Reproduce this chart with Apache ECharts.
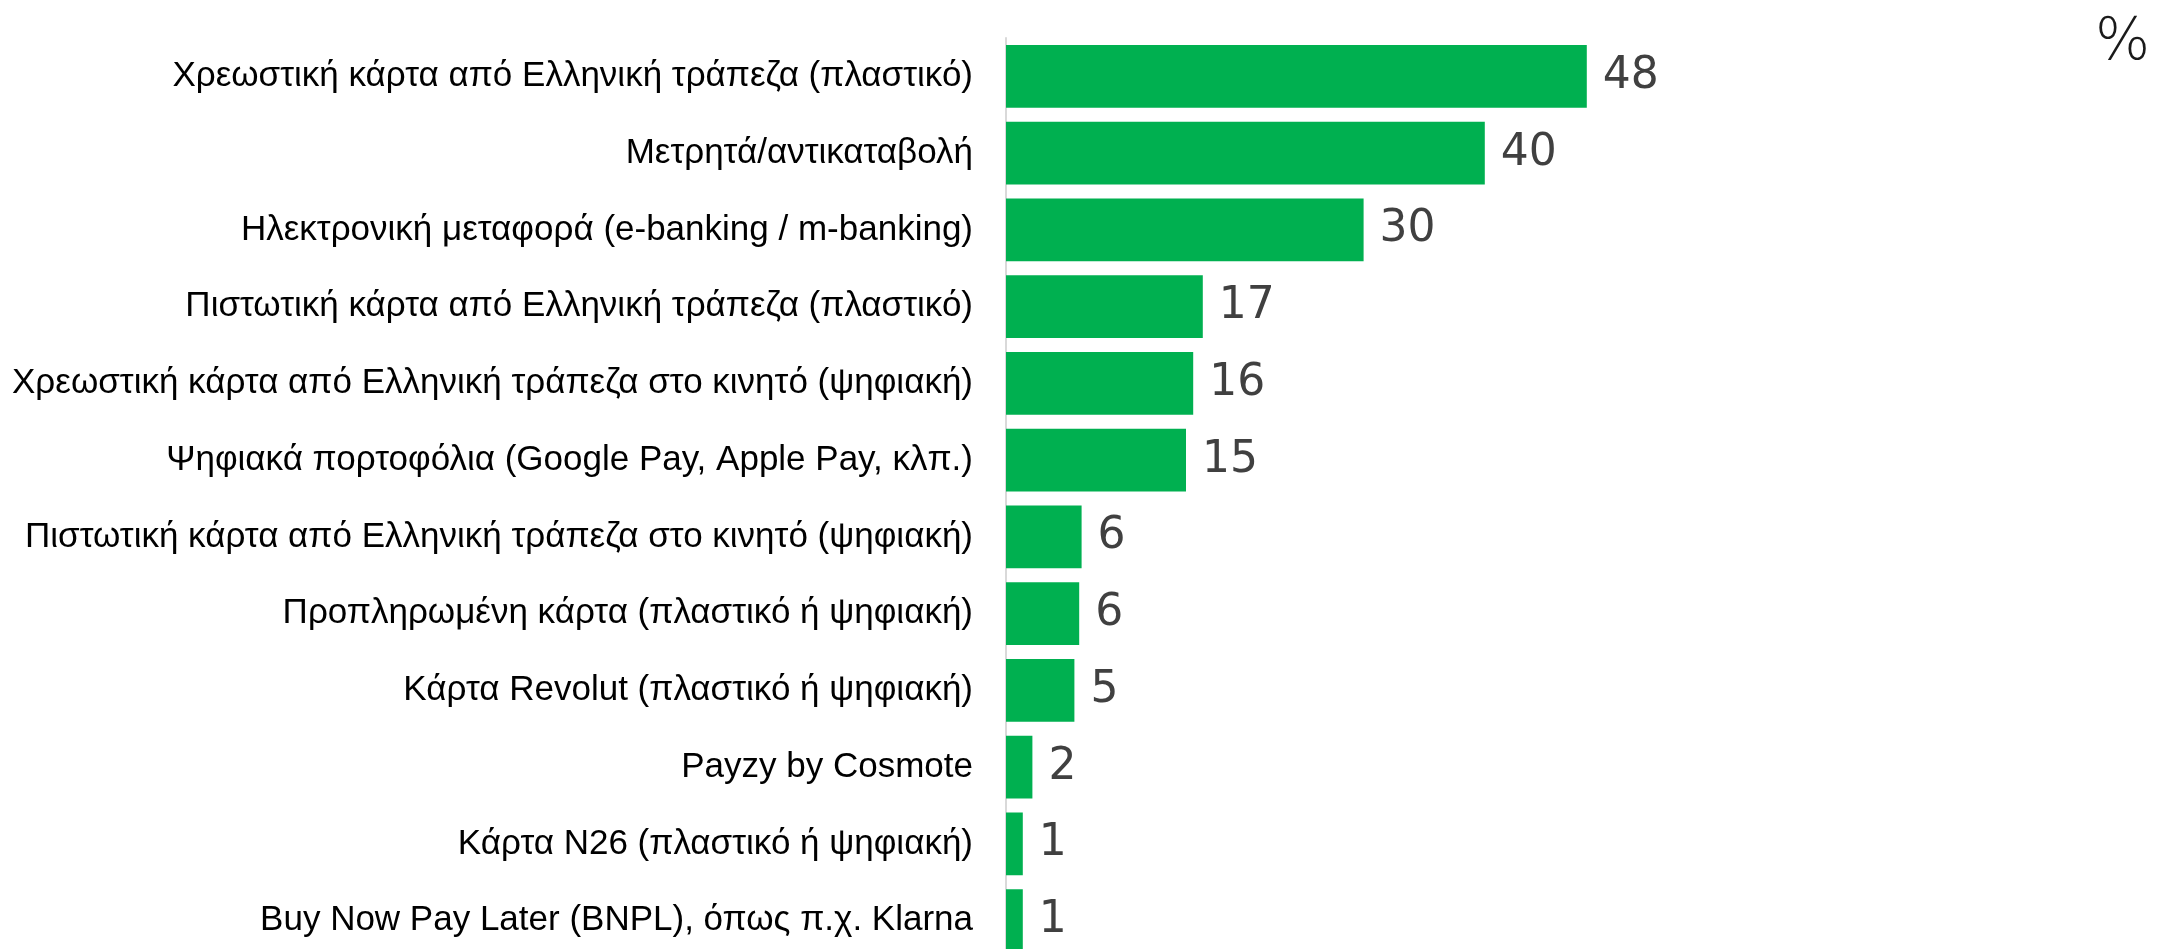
<!DOCTYPE html>
<html>
<head>
<meta charset="utf-8">
<script src="https://cdn.jsdelivr.net/npm/echarts@6/dist/echarts.min.js"></script>
<style>
  html, body { margin: 0; padding: 0; background: #fff; }
  #chart { width: 2159px; height: 949px; }
</style>
</head>
<body>
<div id="chart"></div>
<script>
// payment methods, top to bottom
const categories = [
  'Χρεωστική κάρτα από Ελληνική τράπεζα (πλαστικό)',
  'Μετρητά/αντικαταβολή',
  'Ηλεκτρονική μεταφορά (e-banking / m-banking)',
  'Πιστωτική κάρτα από Ελληνική τράπεζα (πλαστικό)',
  'Χρεωστική κάρτα από Ελληνική τράπεζα στο κινητό (ψηφιακή)',
  'Ψηφιακά πορτοφόλια (Google Pay, Apple Pay, κλπ.)',
  'Πιστωτική κάρτα από Ελληνική τράπεζα στο κινητό (ψηφιακή)',
  'Προπληρωμένη κάρτα (πλαστικό ή ψηφιακή)',
  'Κάρτα Revolut (πλαστικό ή ψηφιακή)',
  'Payzy by Cosmote',
  'Κάρτα N26 (πλαστικό ή ψηφιακή)',
  'Buy Now Pay Later (BNPL), όπως π.χ. Klarna'
];

// bar lengths as measured (%)
const values = [48.4, 39.9, 29.8, 16.4, 15.6, 15.0, 6.3, 6.1, 5.7, 2.2, 1.4, 1.4];

// numbers printed next to the bars
const valueLabels = [48, 40, 30, 17, 16, 15, 6, 6, 5, 2, 1, 1];

const unitText = '%';

const chart = echarts.init(document.getElementById('chart'));

const option = {
  animation: false,
  backgroundColor: '#ffffff',
  title: {
    text: unitText,
    right: 4,
    top: 10,
    textStyle: {
      fontFamily: 'DejaVu Sans',
      fontWeight: 200,
      fontSize: 58,
      color: '#1a1a1a'
    }
  },
  grid: {
    left: 1006,
    width: 960,
    top: 38,
    height: 921,
    outerBoundsMode: 'none',
    containLabel: false
  },
  xAxis: {
    type: 'value',
    min: 0,
    max: 80,
    show: false
  },
  yAxis: {
    type: 'category',
    data: categories,
    inverse: true,
    axisTick: { show: false },
    axisLine: {
      show: true,
      lineStyle: { color: '#d9d9d9', width: 2 }
    },
    axisLabel: {
      margin: 33,
      fontFamily: 'Liberation Sans',
      fontSize: 35,
      color: '#000000'
    },
    splitLine: { show: false }
  },
  series: [
    {
      type: 'bar',
      data: values,
      barCategoryGap: '18%',
      itemStyle: { color: '#00b050' },
      label: {
        show: true,
        position: 'right',
        distance: 16,
        fontFamily: 'DejaVu Sans',
        fontSize: 44,
        color: '#404040',
        formatter: (p) => String(valueLabels[p.dataIndex])
      }
    }
  ]
};

chart.setOption(option);
</script>
</body>
</html>
